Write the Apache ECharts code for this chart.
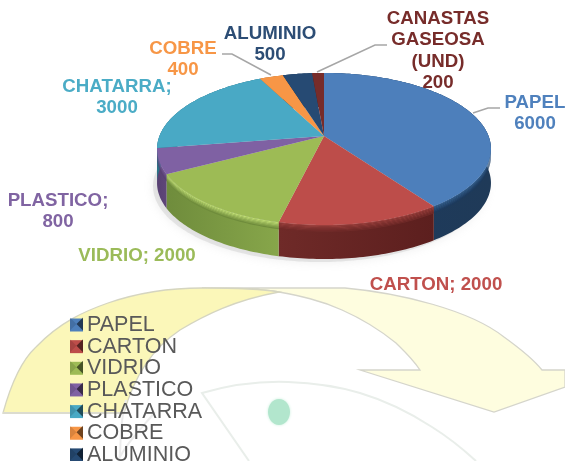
<!DOCTYPE html>
<html><head><meta charset="utf-8">
<style>html,body{margin:0;padding:0;background:#fff;overflow:hidden}#c{width:565px;height:461px}</style>
<script src="https://cdn.jsdelivr.net/npm/echarts@6/dist/echarts.min.js"></script>
</head><body><div id="c"></div>
<script>
const categories = ['PAPEL','CARTON','VIDRIO','PLASTICO','CHATARRA','COBRE','ALUMINIO','CANASTAS GASEOSA (UND)'];
const values = [6000,2000,2000,800,3000,400,500,200];
const topColors = ['#4d7fbb','#bd4d4a','#9dbb55','#7f61a3','#49a9c5','#f79646','#264a73','#772c2a'];
const wallColors = [['#1d3b5e','#1f3a58'],['#6f2a28','#5c1f1e'],['#6f8c3c','#87a64a'],['#574072','#5f4679'],['#2a7286','#2a7286'],['#b46c2c','#b46c2c'],['#1a3350','#1a3350'],['#4f1c1c','#4f1c1c']];
const rimColors = ['#35608f','#9a3f3c','#bfdc74','#7a5e9b','#3d8fa6','#d4813a','#264a73','#772c2a'];
const labelColors = ['#4f81bd','#c0504d','#9bbb59','#8064a2','#4bacc6','#f79646','#2c4d75','#772c2a'];
const labelLines = [['PAPEL','6000'],['CARTON; 2000'],['VIDRIO; 2000'],['PLASTICO;','800'],['CHATARRA;','3000'],['COBRE','400'],['ALUMINIO','500'],['CANASTAS','GASEOSA','(UND)','200']];

// layout
const labelAnchors = [[535,102.5],[436,284.5],[137,255.5],[58,200.5],[117,86.5],[183,48.5],[270,33.5],[438,18.5]];
const labelLeading = 21.6, labelSize = 18.7;
const persp = {cx:324, cy:136, f:73.8, g:164.5, k:0.171, h:34};
const total = values.reduce((a,b)=>a+b,0);

function proj(a, dy){
  const x = Math.sin(a), y = -Math.cos(a), w = 1 - persp.k*y;
  return [persp.cx + persp.g*x/w, persp.cy + persp.f*y/w + (dy||0)];
}
function arc(a0,a1,dy){
  const n = Math.max(2, Math.ceil((a1-a0)/0.02)), pts=[];
  for(let i=0;i<=n;i++) pts.push(proj(a0+(a1-a0)*i/n,dy));
  return pts;
}
function band(a0,a1,d0,d1){ return arc(a0,a1,d0).concat(arc(a0,a1,d1).reverse()); }
function mix(c1,c2,t){
  const p=c=>[1,3,5].map(i=>parseInt(c.substr(i,2),16));
  const A=p(c1),B=p(c2);
  return 'rgb('+A.map((v,i)=>Math.round(v+(B[i]-v)*t)).join(',')+')';
}
function renderSlice(params, api){
  const i = params.seriesIndex, v = api.value(0);
  let before = 0; for(let j=0;j<i;j++) before += values[j];
  const a0 = before/total*Math.PI*2, a1 = (before+v)/total*Math.PI*2;
  const kids = [];
  if(i===0){
    kids.push({type:'polygon',z2:0,shape:{points:arc(0,Math.PI*2,persp.h+3).map(p=>[p[0]-4,p[1]])},
      style:{fill:'rgba(200,200,200,0.4)',shadowBlur:10,shadowColor:'rgba(170,170,170,0.5)'}});
  }
  kids.push({type:'polygon',z2:1,shape:{points:band(a0,a1,0,persp.h)},
    style:{fill:{type:'linear',x:0,y:0,x2:1,y2:0,colorStops:[{offset:0,color:wallColors[i][0]},{offset:1,color:wallColors[i][1]}]}}});
  const steps = 6, rimH = 7;
  for(let s=0;s<steps;s++){
    kids.push({type:'polygon',z2:2,shape:{points:band(a0,a1,s*rimH/steps,(s+1)*rimH/steps)},
      style:{fill:mix(rimColors[i],wallColors[i][0],s/(steps-1))}});
  }
  const face = [proj(a0).slice()].concat(arc(a0,a1)).concat([[persp.cx,persp.cy]]);
  kids.push({type:'polygon',z2:3,shape:{points:face},style:{fill:topColors[i]}});
  return {type:'group',children:kids};
}
function renderBackdrop(){
  return {type:'group',children:[
    {type:'path',shape:{pathData:'M202,288 L345,288 C400,293 470,310 504,337 C522,350 534,360 542,370 L565,370 L565,387 L494,412 L360,370 L420,370 C412,358 402,349 396,343 C380,330 360,318 342,310 C320,300 300,296 279,292 C262,289 230,288 202,288 Z'},
      style:{fill:'#fefddf',stroke:'#d5d5cb',lineWidth:1.3}},
    {type:'path',shape:{pathData:'M3,413 C12,380 22,360 36,347 C60,322 85,311 108,303 C140,292 170,288 202,288 C230,288 262,289 279,292 C235,300 205,315 180,330 C150,350 133,380 124,413 Z'},
      style:{fill:'#fbf7b9',stroke:'#d5d5c0',lineWidth:1.3}},
    {type:'line',shape:{x1:3,y1:413,x2:124,y2:413},style:{stroke:'#dcdccf',lineWidth:2}},
    {type:'path',shape:{pathData:'M249,461 L202,393 C230,385 260,381 288,382 C315,383 340,387 360,393 C390,402 412,414 432,427 C448,437 464,450 476,461'},
      style:{fill:'#fff',stroke:'#e9eeea',lineWidth:2}},
    {type:'path',shape:{pathData:'M126,400 C118,430 122,448 119,461 M155,412 C140,430 125,445 118,461'},
      style:{fill:null,stroke:'#ececec',lineWidth:2}},
    {type:'ellipse',shape:{cx:279,cy:412,rx:11,ry:13},style:{fill:'#b2e6cd',shadowBlur:3,shadowColor:'#c8efdc'}}
  ]};
}
const labelGraphics = [];
labelLines.forEach((lines,i)=>lines.forEach((t,j)=>labelGraphics.push({
  type:'text',z:10,x:labelAnchors[i][0],y:labelAnchors[i][1]+j*labelLeading,
  style:{text:t,fill:labelColors[i],font:'bold '+labelSize+'px "Liberation Sans",Arial,sans-serif',align:'center',verticalAlign:'middle'}
})));
const leaders = [
  [[473,113],[488,108],[500,108]],
  [[222,54],[232,54],[271,75]],
  [[387,45],[375,45],[317,72]]
].map(p=>({type:'polyline',z:9,shape:{points:p},style:{stroke:'#a6a6a6',lineWidth:1.5,fill:null}}));
const legendTop = 314, legendRow = 21.65, legendFirstY = 324;
const bevels = [];
categories.slice(0,7).forEach((n,i)=>{
  const y = legendFirstY + i*legendRow;
  bevels.push({type:'polygon',z:10,shape:{points:[[83,y-6.5],[83,y+6.5],[76.5,y]]},style:{fill:'rgba(0,0,0,0.55)'}});
  bevels.push({type:'polygon',z:10,shape:{points:[[70,y-6.5],[70,y+6.5],[76.5,y]]},style:{fill:'rgba(0,0,0,0.12)'}});
});
const chart = echarts.init(document.getElementById('c'),null,{renderer:'canvas'});
chart.setOption({
  animation:false,
  backgroundColor:'#ffffff',
  legend:{
    orient:'vertical',left:70,top:legendTop,height:200,itemWidth:13,itemHeight:13,itemGap:-0.35,
    padding:0,selectedMode:false,icon:'rect',
    textStyle:{color:'#595959',fontSize:21.5,lineHeight:20,fontFamily:'"Liberation Sans",Arial,sans-serif',padding:[0,0,0,-1]},
    data:categories.map((n,i)=>({name:n,icon:'rect',itemStyle:{color:topColors[i]}}))
  },
  graphic:{elements:leaders.concat(labelGraphics,bevels)},
  series:categories.map((n,i)=>({
    type:'custom',name:n,coordinateSystem:'none',silent:true,renderItem:renderSlice,z:2,
    itemStyle:{color:topColors[i]},data:[[values[i]]]
  })).concat([{type:'custom',name:'fondo',coordinateSystem:'none',silent:true,renderItem:renderBackdrop,z:0,data:[[0]]}])
});
</script></body></html>
